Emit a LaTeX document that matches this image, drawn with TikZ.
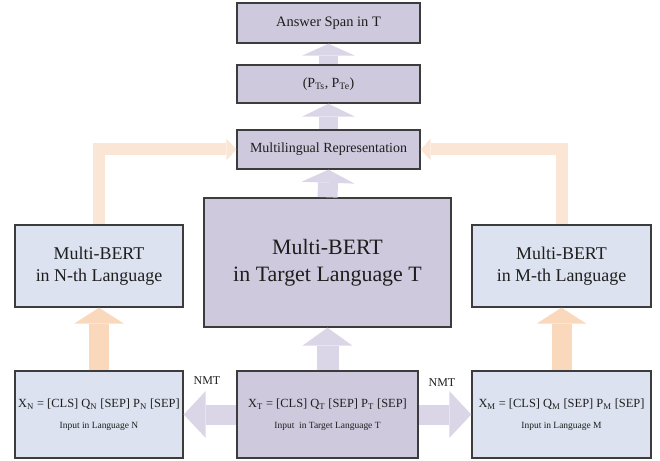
\documentclass[tikz,border=0pt]{standalone}
\usepackage{fontspec}
\setmainfont{Liberation Serif}
\usetikzlibrary{arrows.meta}
\definecolor{boxpurple}{RGB}{207,201,221}
\definecolor{boxblue}{RGB}{220,226,239}
\definecolor{edgegray}{RGB}{60,60,60}
\definecolor{arrowlav}{RGB}{218,214,232}
\definecolor{arrowpeach}{RGB}{249,216,188}
\definecolor{arrowpeachlt}{RGB}{251,229,212}
\definecolor{txt}{RGB}{30,30,30}
\begin{document}
\begin{tikzpicture}[x=1bp,y=-1bp,
  box/.style={draw=edgegray, line width=1.4bp, inner sep=0pt, align=center, text=txt},
  pbox/.style={box, fill=boxpurple},
  bbox/.style={box, fill=boxblue},
  blockarr/.style n args={4}{line width=#1, draw=#4,
    -{Triangle[width=#2, length=#3, line width=0pt]}},
  lbl/.style={text=txt, inner sep=0pt, font=\fontsize{12}{14}\selectfont}
]
\useasboundingbox (0,0) rectangle (660,461);

% boxes
\node[pbox, minimum width=183bp, minimum height=40bp,
  font=\fontsize{14.5}{17}\selectfont] (ans) at (328.5,23) {Answer Span in T};
\node[pbox, minimum width=183bp, minimum height=38bp,
  font=\fontsize{14}{16}\selectfont] (pp) at (328.5,84)
  {(P\textsubscript{Ts}, P\textsubscript{Te})};
\node[pbox, minimum width=183bp, minimum height=39bp,
  font=\fontsize{14}{16}\selectfont] (rep) at (328.5,149.5) {Multilingual Representation};
\node[pbox, minimum width=247bp, minimum height=129bp,
  font=\fontsize{22}{27}\selectfont] (tgt) at (327.5,262.5)
  {Multi-BERT\\in Target Language T};
\node[bbox, minimum width=168bp, minimum height=82bp,
  font=\fontsize{18}{22}\selectfont] (bn) at (99,266)
  {Multi-BERT\\in N-th Language};
\node[bbox, minimum width=179bp, minimum height=82bp,
  font=\fontsize{18}{22}\selectfont] (bm) at (561.5,266)
  {Multi-BERT\\in M-th Language};
\node[bbox, minimum width=168bp, minimum height=87bp,
  font=\fontsize{12.5}{15}\selectfont] (xn) at (99,414.5)
  {X\textsubscript{N} = [CLS] Q\textsubscript{N} [SEP] P\textsubscript{N} [SEP]\\[6bp]
   {\fontsize{9.5}{11}\selectfont Input in Language N}};
\node[pbox, minimum width=181bp, minimum height=87bp,
  font=\fontsize{12.5}{15}\selectfont] (xt) at (327.5,414.5)
  {X\textsubscript{T} = [CLS] Q\textsubscript{T} [SEP] P\textsubscript{T} [SEP]\\[6bp]
   {\fontsize{9.5}{11}\selectfont Input\ \ in Target Language T}};
\node[bbox, minimum width=179bp, minimum height=87bp,
  font=\fontsize{12.5}{15}\selectfont] (xm) at (561.5,414.5)
  {X\textsubscript{M} = [CLS] Q\textsubscript{M} [SEP] P\textsubscript{M} [SEP]\\[6bp]
   {\fontsize{9.5}{11}\selectfont Input in Language M}};

% labels
\node[lbl] (nmtl) at (207,381) {NMT};
\node[lbl] (nmtr) at (442,383) {NMT};

% lavender vertical arrows
\draw[blockarr={19bp}{53bp}{12bp}{arrowlav}] (pp.north) -- (ans.south);
\draw[blockarr={19bp}{53bp}{13bp}{arrowlav}] (rep.north) -- (pp.south);
\draw[blockarr={20bp}{53bp}{13bp}{arrowlav}] (tgt.north) -- (rep.south);
\draw[blockarr={22bp}{50bp}{18bp}{arrowlav}] (xt.north) -- (tgt.south);

% NMT arrows
\draw[blockarr={20bp}{47bp}{22bp}{arrowlav}] (xt.west) -- (xn.east);
\draw[blockarr={20bp}{47bp}{22bp}{arrowlav}] (xt.east) -- (xm.west);

% peach arrows
\draw[blockarr={20bp}{50bp}{16bp}{arrowpeach}] (xn.north) -- (bn.south);
\draw[blockarr={20bp}{50bp}{16bp}{arrowpeach}] (xm.north) -- (bm.south);
\draw[blockarr={12bp}{22bp}{10bp}{arrowpeachlt}, line join=miter] (bn.north) |- (rep.west);
\draw[blockarr={12bp}{22bp}{10bp}{arrowpeachlt}, line join=miter] (bm.north) |- (rep.east);
\end{tikzpicture}
\end{document}
